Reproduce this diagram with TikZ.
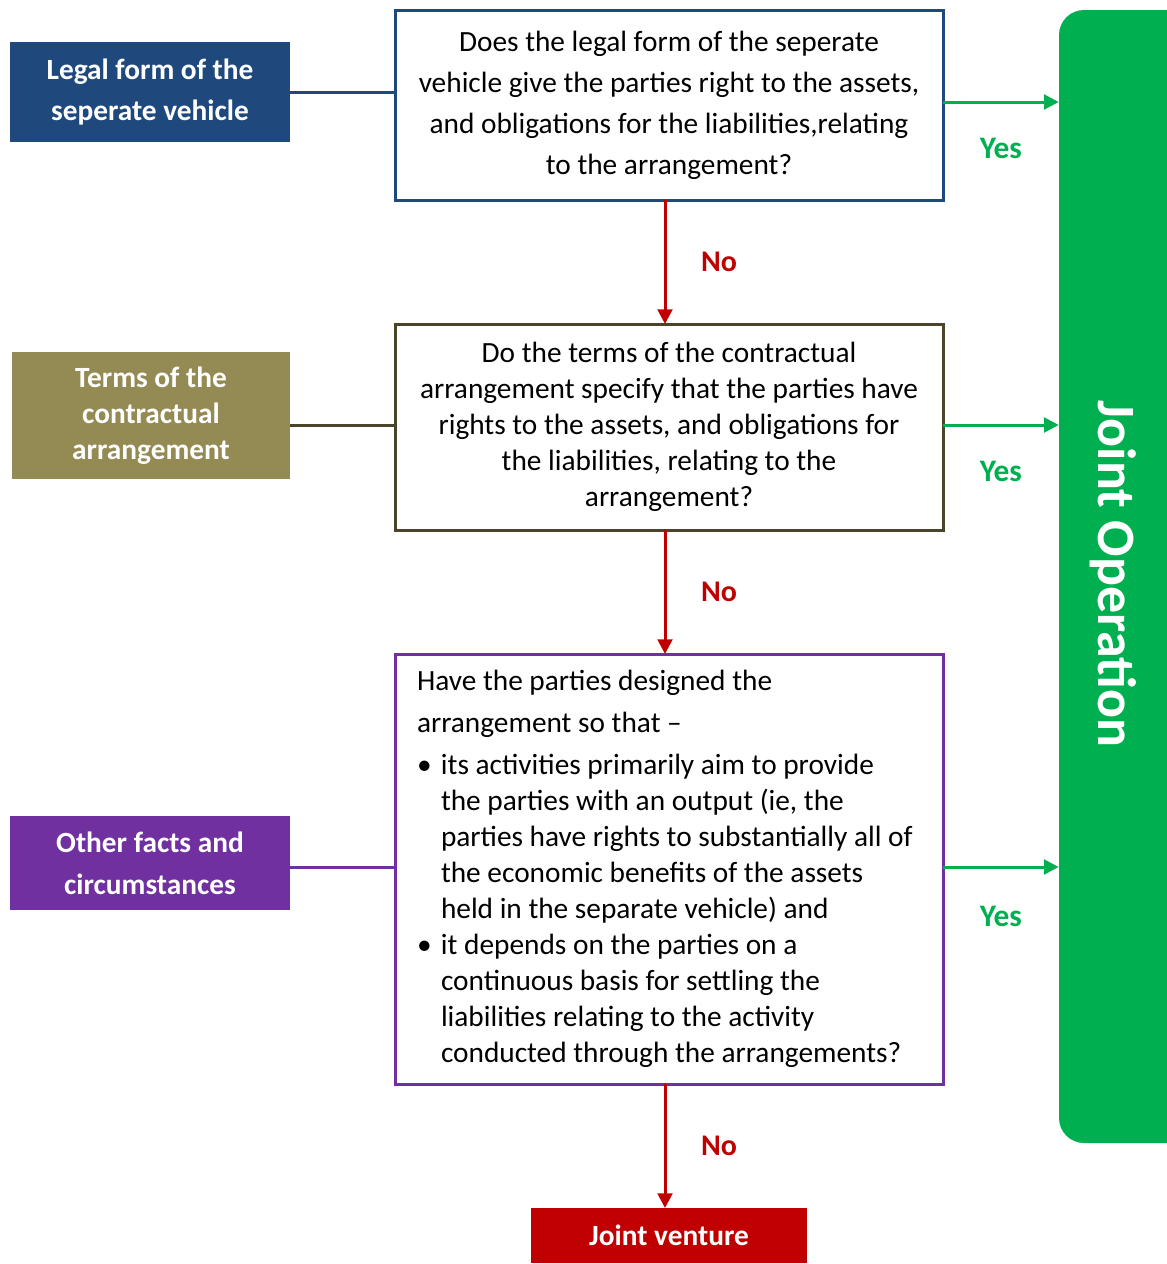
\documentclass[tikz,border=0pt]{standalone}
\usepackage{fontspec}
\setmainfont{Carlito}
\usepackage{xcolor}
\usepackage{tikz}
\usetikzlibrary{arrows.meta,positioning,calc}
\definecolor{LegalBlue}{HTML}{1F497D}
\definecolor{TermsOlive}{HTML}{948A54}
\definecolor{TermsDark}{HTML}{4A452A}
\definecolor{OtherPurple}{HTML}{7030A0}
\definecolor{OpGreen}{HTML}{00B050}
\definecolor{JvRed}{HTML}{C00000}
\tikzset{
  QB/.style={rectangle,draw,line width=2.25pt,fill=white,outer sep=0pt,
             minimum width=411pt,inner sep=0pt,align=center,
             font=\fontsize{22}{27}\selectfont},
  LB/.style={rectangle,text=white,align=center,inner sep=0pt,
             minimum width=210pt,font=\fontsize{22}{27}\selectfont\bfseries},
  link/.style={line width=2.25pt},
  yesarr/.style={-{Triangle[length=11pt,width=11pt]},line width=2.25pt,draw=OpGreen},
  noarr/.style={-{Triangle[length=11pt,width=11pt]},line width=2.25pt,draw=JvRed},
  yeslbl/.style={inner sep=0pt,text=OpGreen,font=\fontsize{23.5}{24}\selectfont\bfseries},
  nolbl/.style={inner sep=0pt,text=JvRed,font=\fontsize{22.5}{24}\selectfont\bfseries}
}
\newcommand{\bulletline}{\noindent\hangindent=18pt\hangafter=1\makebox[18pt][l]{\textbullet}}

\begin{document}
\begin{tikzpicture}[x=0.75pt,y=-0.75pt,node distance=93pt]
  \useasboundingbox (0,0) rectangle (1167,1264);
  \clip (0,0) rectangle (1167,1264);

  % question column
  \node[QB,draw=LegalBlue,minimum height=142.5pt,
        font=\fontsize{22}{30.75}\selectfont] (q1) at (669,105)
    {Does the legal form of the seperate\\ vehicle give the parties right to the assets,\\
     and obligations for the liabilities,relating\\ to the arrangement?};
  \node[QB,draw=TermsDark,minimum height=154.5pt,below=of q1] (q2)
    {Do the terms of the contractual\\ arrangement specify that the parties have\\
     rights to the assets, and obligations for\\ the liabilities, relating to the\\ arrangement?};
  \node[QB,draw=OtherPurple,minimum height=322.5pt,text width=378pt,
        inner xsep=16.5pt,align=left,below=of q2] (q3)
    {\spaceskip=0pt\xspaceskip=0pt
     Have the parties designed the\\[4.5pt] arrangement so that --\par\vspace{4.5pt}
     \bulletline its activities primarily aim to provide\newline the parties with an output (ie, the\newline
       parties have rights to substantially all of\newline the economic benefits of the assets\newline
       held in the separate vehicle) and\par
     \bulletline it depends on the parties on a\newline continuous basis for settling the\newline
       liabilities relating to the activity\newline conducted through the arrangements?\par};
  \node[rectangle,fill=JvRed,text=white,minimum width=207pt,minimum height=41.25pt,outer sep=0pt,
        font=\fontsize{22}{24}\selectfont\bfseries,below=of q3] (jv) {Joint venture};

  % factors on the left
  \node[LB,fill=LegalBlue,minimum height=75pt,font=\fontsize{22}{30.75}\selectfont\bfseries]
    (legal) at (150,92) {Legal form of the\\ seperate vehicle};
  \node[LB,fill=TermsOlive,minimum height=95.25pt,minimum width=208.5pt] (terms) at (151,415.5)
    {Terms of the\\ contractual\\ arrangement};
  \node[LB,fill=OtherPurple,minimum height=70.5pt,font=\fontsize{22}{31.5}\selectfont\bfseries]
    (other) at (150,863) {Other facts and\\ circumstances};

  % joint operation bar
  \node[rectangle,fill=OpGreen,rounded corners=18.75pt,minimum width=105.75pt,
        minimum height=849.75pt] (op) at (1129.5,576.5) {};
  \node[text=white,rotate=-90,font=\fontsize{40.5}{41}\selectfont\bfseries] (optext) at (1113,574)
    {Joint Operation};

  \draw[link,draw=LegalBlue] (legal.east) -- (legal.east -| q1.west);
  \draw[link,draw=TermsDark] ($(q2.west)+(0,1.5pt)$) -- ($(q2.west -| terms.east)+(0,1.5pt)$);
  \draw[link,draw=OtherPurple] ($(q3.west)+(0,1.5pt)$) -- ($(q3.west -| other.east)+(0,1.5pt)$);

  \draw[yesarr] ($(q1.east)+(0,2.25pt)$) -- node[yeslbl,yshift=-35pt] {Yes} ($(q1.east -| op.west)+(0,2.25pt)$);
  \draw[yesarr] ($(q2.east)+(0,1.5pt)$) -- node[yeslbl,yshift=-35pt] {Yes} ($(q2.east -| op.west)+(0,1.5pt)$);
  \draw[yesarr] ($(q3.east)+(0,1.5pt)$) -- node[yeslbl,yshift=-37pt] {Yes} ($(q3.east -| op.west)+(0,1.5pt)$);

  \draw[noarr] ($(q1.south)+(-3pt,0)$) -- node[nolbl,xshift=40.5pt] {No} ($(q2.north)+(-3pt,0)$);
  \draw[noarr] ($(q2.south)+(-3pt,0)$) -- node[nolbl,xshift=40.5pt] {No} ($(q3.north)+(-3pt,0)$);
  \draw[noarr] ($(q3.south)+(-3pt,0)$) -- node[nolbl,xshift=40.5pt] {No} ($(jv.north)+(-3pt,0)$);
\end{tikzpicture}
\end{document}
